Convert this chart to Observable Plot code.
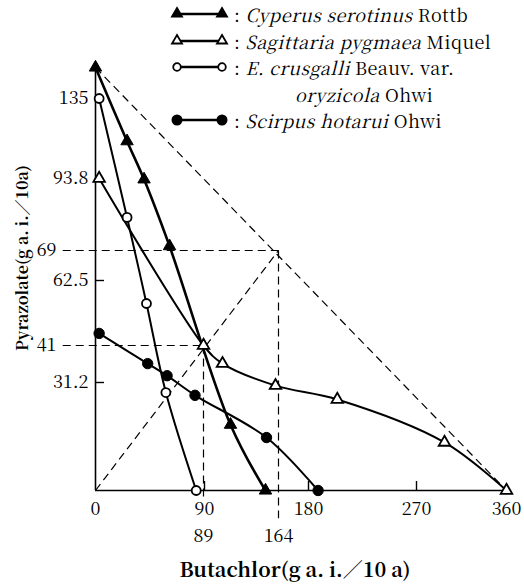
<!DOCTYPE html>
<html><head><meta charset="utf-8">
<script src="https://cdn.jsdelivr.net/npm/d3@7"></script>
<script src="https://cdn.jsdelivr.net/npm/@observablehq/plot@0.6"></script>
<style>
body{margin:0;background:#fff;}
#wrap{position:relative;width:524px;height:588px;font-family:"Noto Serif CJK JP","Liberation Serif",serif;color:#000;}
#legend{position:absolute;left:0;top:0;font-size:18px;line-height:1;letter-spacing:0.5px;}
.row{position:absolute;white-space:nowrap;display:flex;align-items:center;height:20px;line-height:1;}
.row i{font-style:italic;}
</style></head><body><div id="wrap"><div id="chart"></div><div id="legend"></div></div>
<script>
// ---- data (Butachlor x, Pyrazolate y; g a.i./10a) ----
const cyperusX = [0, 26, 40, 61, 116, 151];
const cyperusY = [150, 113, 93.5, 70.5, 19, 0];
const sagittariaX = [3, 89, 108, 161, 204, 298, 360];
const sagittariaY = [93.8, 41, 36.2, 30.3, 26.3, 13.9, 0];
const crusgalliX = [3, 26, 42, 58, 83];
const crusgalliY = [135, 80.4, 54.9, 28.3, 0];
const scirpusX = [3, 43, 59, 82, 152, 188];
const scirpusY = [45, 36.2, 33, 27.5, 15.3, 0];

const xTicks = [0, 90, 180, 270, 360];
const xTicks2 = [89, 164];
const xTickMarks = [90, 180, 270];
const yTicks = [135, 93.8, 62.5, 31.2];
const yTicksDashed = [69, 41];

// isobole guide lines [x1, y1, x2, y2]
const guideX1 = [0, 0, -27, 164, -27, 89];
const guideY1 = [150, 0, 69, 69, 41, 41];
const guideX2 = [360, 164, 164, 164, 89, 89];
const guideY2 = [0, 69, 69, -8, 41, -2.5];

// legend
const legendItalic = ["Cyperus serotinus", "Sagittaria pygmaea", "E. crusgalli", "Scirpus hotarui"];
const legendRoman = ["Rottb", "Miquel", "Beauv. var.", "Ohwi"];

// ---- build tables ----
const zipS = (xs, ys, s) => xs.map((x, i) => ({x, y: ys[i], s}));
const cyperus = zipS(cyperusX, cyperusY, "c");
const sagittaria = zipS(sagittariaX, sagittariaY, "s");
const crusgalli = zipS(crusgalliX, crusgalliY, "e");
const scirpus = zipS(scirpusX, scirpusY, "h");
const guides = guideX1.map((x1, i) => ({x1, y1: guideY1[i], x2: guideX2[i], y2: guideY2[i]}));

const serif = "'Noto Serif CJK JP', 'Liberation Serif', serif";
const dash = "8,5";
const chart = Plot.plot({
  width: 524, height: 588,
  marginLeft: 95, marginRight: 18, marginTop: 67, marginBottom: 98,
  style: {fontFamily: serif, fontSize: "18px", color: "#000", background: "transparent"},
  x: {type: "linear", domain: [0, 89, 164, 180, 270, 360], range: [95, 203, 278, 308, 416, 506], axis: null},
  y: {type: "linear", domain: [0, 31.2, 41, 62.5, 69, 93.8, 135, 150], range: [490, 382, 345, 280, 250, 178, 98, 67], axis: null},
  marks: [
    Plot.link(guides, {x1: "x1", y1: "y1", x2: "x2", y2: "y2", stroke: "#000", strokeWidth: 1.2, strokeDasharray: dash}),
    Plot.ruleX([0], {y1: 0, y2: 150, stroke: "#000", strokeWidth: 1.6}),
    Plot.ruleY([0], {x1: 0, x2: 363, stroke: "#000", strokeWidth: 1.6}),
    Plot.axisX({ticks: xTickMarks, tickSize: -9, text: null, strokeWidth: 1.4}),
    Plot.axisX({ticks: xTicks, tickSize: 0, tickPadding: 12, tickFormat: d => String(d)}),
    Plot.axisX({ticks: xTicks2, tickSize: 0, tickPadding: 39, tickFormat: d => String(d)}),
    Plot.axisY({ticks: yTicks, tickSize: -9, text: null, strokeWidth: 1.4}),
    Plot.axisY({ticks: yTicks, tickSize: 0, tickPadding: 7, tickFormat: d => String(d)}),
    Plot.axisY({ticks: yTicksDashed, tickSize: 0, tickPadding: 39, tickFormat: d => String(d)}),
    Plot.line(crusgalli, {x: "x", y: "y", curve: "catmull-rom", stroke: "#000", strokeWidth: 2}),
    Plot.line(scirpus, {x: "x", y: "y", curve: "catmull-rom", stroke: "#000", strokeWidth: 2}),
    Plot.line(sagittaria, {x: "x", y: "y", curve: "catmull-rom", stroke: "#000", strokeWidth: 2}),
    Plot.line(cyperus, {x: "x", y: "y", curve: "catmull-rom", stroke: "#000", strokeWidth: 2.6}),
    Plot.dot(crusgalli, {x: "x", y: "y", r: 4.5, fill: "#fff", stroke: "#000", strokeWidth: 1.8}),
    Plot.dot(scirpus, {x: "x", y: "y", r: 5.2, fill: "#000", stroke: "#000", strokeWidth: 1}),
    Plot.dot(sagittaria, {x: "x", y: "y", symbol: "triangle", r: 4.3, fill: "#fff", stroke: "#000", strokeWidth: 1.8}),
    Plot.dot(cyperus, {x: "x", y: "y", symbol: "triangle", r: 4.6, fill: "#000", stroke: "#000", strokeWidth: 1}),
    Plot.text(["Pyrazolate(g a. i.／10a)"], {frameAnchor: "left", textAnchor: "middle", rotate: -90, dx: -73, dy: -21, fontSize: 16, fontWeight: "bold", fill: "#000"}),
    Plot.text(["Butachlor(g a. i.／10 a)"], {frameAnchor: "bottom", textAnchor: "middle", dx: -6, dy: 86, fontSize: 20, fontWeight: "bold", fill: "#000"})
  ]
});
document.getElementById("chart").appendChild(chart);

// ---- legend ----
const symbols = [
  {shape: "tri", fill: "#000"},
  {shape: "tri", fill: "#fff"},
  {shape: "circ", fill: "#fff"},
  {shape: "circ", fill: "#000"}
];
const rowCenters = [14, 40.5, 67, 120];
const legend = document.getElementById("legend");
function marker(s, cx) {
  if (s.shape === "tri") {
    return `<path d="M${cx},4 L${cx + 5},12.5 L${cx - 5},12.5 Z" fill="${s.fill}" stroke="#000" stroke-width="1.8"/>`;
  }
  return `<circle cx="${cx}" cy="10" r="${s.fill === "#000" ? 4.6 : 3.8}" fill="${s.fill}" stroke="#000" stroke-width="1.8"/>`;
}
legendItalic.forEach((name, i) => {
  const s = symbols[i];
  const row = document.createElement("div");
  row.className = "row";
  row.style.left = "170px";
  row.style.top = (rowCenters[i] - 10) + "px";
  row.innerHTML = `<svg width="62" height="20" style="overflow:visible"><line x1="7" y1="10" x2="52" y2="10" stroke="#000" stroke-width="2.6"/>${marker(s, 7)}${marker(s, 52)}</svg><span style="margin-left:2px">:&nbsp;</span><i>${name}</i><span>&nbsp;${legendRoman[i]}</span>`;
  legend.appendChild(row);
});
const extra = document.createElement("div");
extra.className = "row";
extra.style.left = "295px";
extra.style.top = (93.5 - 10) + "px";
extra.innerHTML = `<i>oryzicola</i><span>&nbsp;Ohwi</span>`;
legend.appendChild(extra);
</script>
</body></html>
